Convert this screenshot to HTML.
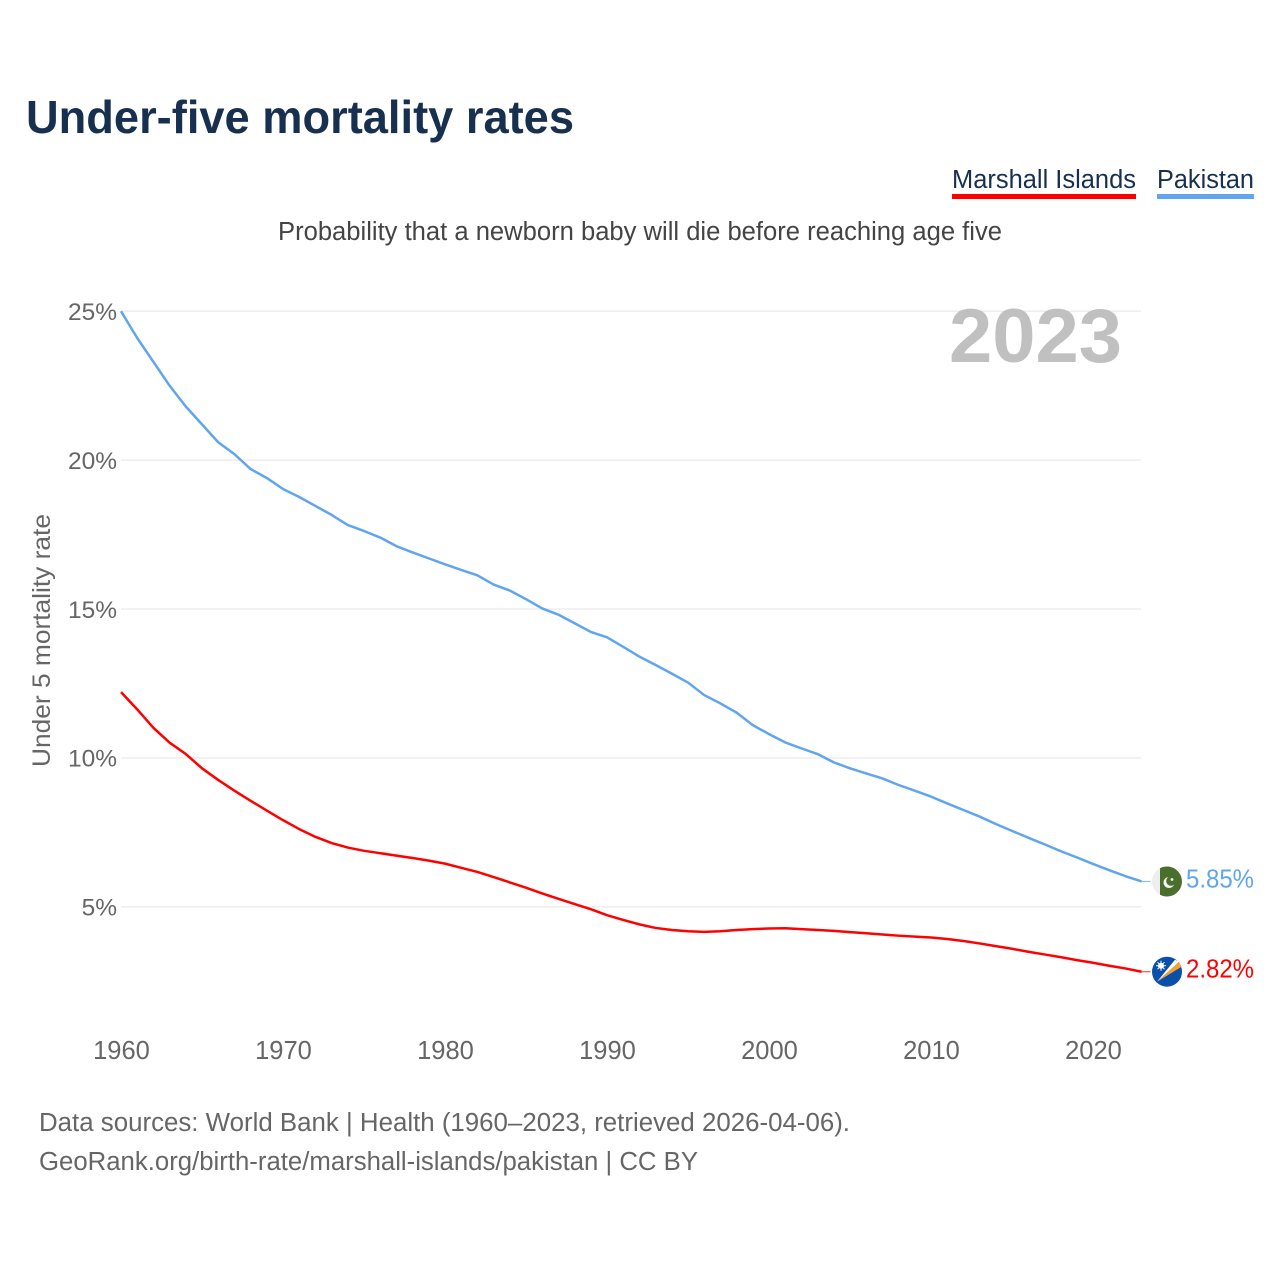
<!DOCTYPE html>
<html lang="en">
<head>
<meta charset="utf-8">
<title>Under-five mortality rates</title>
<style>
html,body{margin:0;padding:0;background:#fff;}
svg{display:block;font-family:"Liberation Sans",sans-serif;}
</style>
</head>
<body>
<svg id="chart" xmlns="http://www.w3.org/2000/svg" width="1280" height="1280" viewBox="0 0 1280 1280">
  <rect x="0" y="0" width="1280" height="1280" fill="#fff"/>
  <text x="26" y="133" font-size="46.5" font-weight="700" fill="#17304f" textLength="548" lengthAdjust="spacingAndGlyphs">Under-five mortality rates</text>

  <g>
    <text x="952" y="188" font-size="25.5" fill="#17304f" textLength="184" lengthAdjust="spacingAndGlyphs">Marshall Islands</text>
    <rect x="952" y="194" width="184" height="5" fill="#ff0000"/>
  </g>
  <g>
    <text x="1157" y="188" font-size="25.5" fill="#17304f" textLength="97" lengthAdjust="spacingAndGlyphs">Pakistan</text>
    <rect x="1157" y="194" width="97" height="5" fill="#60a5ee"/>
  </g>

  <text x="278" y="240" font-size="25.5" fill="#444" textLength="724" lengthAdjust="spacingAndGlyphs">Probability that a newborn baby will die before reaching age five</text>

  <g id="grid"></g>
  <text x="949" y="362" font-size="76" font-weight="700" fill="#c0c0c0" textLength="173" lengthAdjust="spacingAndGlyphs">2023</text>
  <g id="yticks"></g>
  <g id="xticks"></g>
  <text transform="translate(50,767) rotate(-90)" x="0" y="0" font-size="25" fill="#666" textLength="253" lengthAdjust="spacingAndGlyphs">Under 5 mortality rate</text>

  <g id="series"></g>

  <g id="flag-pak">
    <circle cx="0" cy="0" r="15" fill="#eeeeee"/>
    <path d="M-7 -13.3 A15 15 0 1 1 -7 13.3 Z" fill="#4a6f2c"/>
    <circle cx="2" cy="1" r="5.5" fill="#f2f2f2"/>
    <circle cx="4" cy="-0.5" r="4.8" fill="#4a6f2c"/>
    <circle cx="5" cy="-2" r="1.4" fill="#f2f2f2"/>
  </g>
  <g id="flag-mhl">
    <circle cx="0" cy="0" r="15" fill="#0a50ab"/>
    <path d="M-10 10 L12 -10 L14.5 -5 Z" fill="#f5a033"/>
    <path d="M-10 10 L8 -12 L12 -10 Z" fill="#ffffff"/>
    <circle cx="-6" cy="-6" r="3" fill="#ffffff"/>
    <path d="M-6 -11 V-1 M-11 -6 H-1 M-9.5 -9.5 L-2.5 -2.5 M-2.5 -9.5 L-9.5 -2.5" stroke="#ffffff" stroke-width="1" fill="none"/>
  </g>
  <text id="label-pak" x="1186" font-size="25.5" fill="#60a5ee" textLength="68" lengthAdjust="spacingAndGlyphs"></text>
  <text id="label-mhl" x="1186" font-size="25.5" fill="#ff0000" textLength="68" lengthAdjust="spacingAndGlyphs"></text>

  <text x="39" y="1131" font-size="25.5" fill="#666" textLength="811" lengthAdjust="spacingAndGlyphs">Data sources: World Bank | Health (1960–2023, retrieved 2026-04-06).</text>
  <text x="39" y="1170" font-size="25.5" fill="#666" textLength="659" lengthAdjust="spacingAndGlyphs">GeoRank.org/birth-rate/marshall-islands/pakistan | CC BY</text>
</svg>
<script>
var startYear = 1960;
var pakistanValues = [25.0,24.1,23.3,22.5,21.8,21.2,20.6,20.2,19.7,19.4,
  19.03,18.76,18.46,18.16,17.82,17.62,17.4,17.11,16.9,16.7,
  16.5,16.31,16.13,15.82,15.62,15.33,15.02,14.81,14.52,14.23,
  14.05,13.73,13.4,13.12,12.83,12.53,12.11,11.83,11.52,11.1,
  10.8,10.52,10.32,10.13,9.85,9.65,9.48,9.31,9.09,8.9,
  8.7,8.47,8.25,8.03,7.78,7.55,7.32,7.1,6.87,6.66,
  6.44,6.23,6.03,5.85];
var marshallValues = [12.21,11.63,11.01,10.51,10.13,9.65,9.26,8.9,8.56,8.23,
  7.91,7.61,7.35,7.14,6.99,6.88,6.8,6.72,6.64,6.55,
  6.45,6.31,6.17,6.0,5.82,5.64,5.45,5.27,5.09,4.92,
  4.72,4.56,4.41,4.29,4.22,4.18,4.16,4.18,4.22,4.25,
  4.27,4.28,4.25,4.22,4.19,4.15,4.11,4.07,4.03,4.0,
  3.97,3.92,3.85,3.77,3.68,3.59,3.49,3.4,3.31,3.21,
  3.12,3.02,2.93,2.82];
var yTickValues = [5,10,15,20,25];
var yTickLabels = ["5%","10%","15%","20%","25%"];
var xTickValues = [1960,1970,1980,1990,2000,2010,2020];
var xTickLabels = ["1960","1970","1980","1990","2000","2010","2020"];

var NS = "http://www.w3.org/2000/svg";
function xScale(year){ return 121 + (year - 1960) * 16.2; }
function yScale(v){ return 1055.7 - v * 29.78; }
function make(tag, attrs, parent){
  var el = document.createElementNS(NS, tag);
  for (var k in attrs) el.setAttribute(k, attrs[k]);
  parent.appendChild(el);
  return el;
}
var grid = document.getElementById("grid");
var yticks = document.getElementById("yticks");
var xticks = document.getElementById("xticks");
var series = document.getElementById("series");

yTickValues.forEach(function(v, i){
  var line = make("line", {x1:121, x2:1141, y1:yScale(v), y2:yScale(v), stroke:"#eeeeee", "stroke-width":1.5}, grid);
  
  
  var t = make("text", {x:117, y:yScale(v)+8.8, "text-anchor":"end", "font-size":24.5, fill:"#666"}, yticks);
  
  
  t.textContent = yTickLabels[i];
});
xTickValues.forEach(function(v, i){
  var t = make("text", {x:xScale(v)+0.5, y:1059, "text-anchor":"middle", "font-size":25.5, fill:"#666"}, xticks);
  
  
  t.textContent = xTickLabels[i];
});
function linePath(values){
  return values.map(function(v, i){
    return (i ? "L" : "M") + xScale(startYear + i).toFixed(2) + " " + yScale(v).toFixed(2);
  }).join(" ");
}
var lastYear = startYear + pakistanValues.length - 1;

var pakStub = make("line", {x1:xScale(lastYear), x2:xScale(lastYear)+9, y1:yScale(pakistanValues[63]), y2:yScale(pakistanValues[63]), stroke:"#60a5ee", "stroke-width":1.2, "stroke-opacity":0.7}, series);


var mhlStub = make("line", {x1:xScale(lastYear), x2:xScale(lastYear)+9, y1:yScale(marshallValues[63]), y2:yScale(marshallValues[63]), stroke:"#ff0000", "stroke-width":1.2, "stroke-opacity":0.7}, series);



var pakLine = make("path", {d:linePath(pakistanValues), fill:"none", stroke:"#60a5ee", "stroke-width":2.5, "stroke-linejoin":"round"}, series);


var mhlLine = make("path", {d:linePath(marshallValues), fill:"none", stroke:"#ff0000", "stroke-width":2.5, "stroke-linejoin":"round"}, series);



var pakEnd = pakistanValues[pakistanValues.length - 1];
var mhlEnd = marshallValues[marshallValues.length - 1];
document.getElementById("flag-pak").setAttribute("transform", "translate(1167," + yScale(pakEnd).toFixed(1) + ")");
document.getElementById("flag-mhl").setAttribute("transform", "translate(1167," + yScale(mhlEnd).toFixed(1) + ")");
var lp = document.getElementById("label-pak");
lp.setAttribute("y", (yScale(pakEnd) + 6).toFixed(1));
lp.textContent = pakEnd.toFixed(2) + "%";
var lm = document.getElementById("label-mhl");
lm.setAttribute("y", (yScale(mhlEnd) + 6).toFixed(1));
lm.textContent = mhlEnd.toFixed(2) + "%";
</script>
</body>
</html>
